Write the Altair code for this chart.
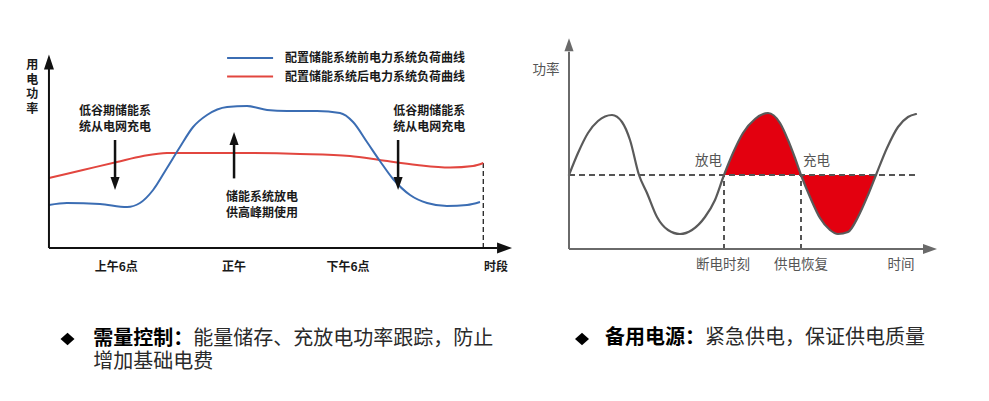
import altair as alt
import pandas as pd

FONT = "Noto Sans CJK SC"

# ---------------- left panel : daily load curve (hour vs. load) ----------------
before_hour = [2.52, 3.45, 5.16, 6.56, 7.23, 7.91, 8.63, 9.30, 9.98, 10.70, 11.74, 12.77,
               13.81, 14.84, 16.39, 17.58, 18.26, 18.98, 19.65, 20.33, 21.21, 22.09, 23.12,
               24.16, 24.83]
before_load = [21.5, 22.5, 22, 20.5, 22.5, 29, 40, 50.5, 60.5, 66.5, 70.5, 71,
               69, 68.5, 68.5, 67.5, 63, 53, 43.5, 34.5, 26.5, 22.5, 21,
               21.5, 23]
after_hour = [2.52, 4.28, 6.04, 7.39, 8.63, 12.05, 15.51, 18.10, 19.81, 21.57, 23.28, 24.47, 25.0]
after_load = [35, 39, 43, 46, 47.5, 47.5, 47, 46, 43.75, 41.5, 40.25, 41, 42.5]

legend_labels = ["配置储能系统前电力系统负荷曲线", "配置储能系统后电力系统负荷曲线"]
legend_colors = ["#3b6db3", "#e2463f"]
legend_h1 = [11.74, 11.74]
legend_h2 = [14.12, 14.12]
legend_text_h = [14.74, 14.74]
legend_load = [95, 85.7]

period_labels = ["上午6点", "正午", "下午6点", "时段"]
period_hours = [6, 12.1, 18, 25.66]
period_load = [-9.5, -9.5, -9.5, -9.5]

ylabel_text = "用\n电\n功\n率"
ylabel_load = 93.95
ylabel_hour = 1.66

note_blocks = ["低谷期储能系\n统从电网充电", "低谷期储能系\n统从电网充电", "储能系统放电\n供高峰期使用"]
note_hour = [5.94, 22.2, 13.55]
note_load = [70.95, 70.95, 27.95]

# annotation arrows: hour, shaft start, shaft end (head position), direction
arrow_hour = [5.94, 20.59, 12.1]
arrow_from = [54, 54, 34.8]
arrow_to = [32.3, 32.3, 54.8]
arrow_dir = ["down", "down", "up"]

axis_origin_hour = 2.52
axis_top_load = 93
axis_end_hour = 25.71
axis_xhead_hour = 26.10
dash_hour = 25.0
dash_load = 42.5

bottom_left_bold = "需量控制："
bottom_left_rest = ["能量储存、充放电功率跟踪，防止", "增加基础电费"]

# ---------------- right panel : backup power (time vs. power) ----------------
wave_t = [0, 9, 19, 29, 43, 53, 61, 70, 78, 88, 99, 111, 123, 136, 146, 155,
          164, 174, 186, 199, 211, 219, 226, 232, 241, 251, 261, 269, 279, 289, 299, 307,
          318, 329, 339, 347]
wave_p = [0, 22, 42, 54, 60, 53, 35, 0, -18, -42, -55, -59, -55, -42, -25, 0,
          22, 42, 56, 62, 52, 35, 17, 0, -22, -43, -55, -59, -57, -42, -20, 0,
          27, 48, 58, 61]
outage_t = 155
restore_t = 232
fill_end_t = 307
ref_end_t = 348
r_axis_bottom = -74
r_axis_top = 123.3
r_yhead = 130.3
r_axis_end_t = 354
r_xhead_t = 361

r_labels = ["功率", "断电时刻", "供电恢复", "时间"]
r_label_t = [-23, 154, 232, 332]
r_label_p = [105, -90, -90, -90]
discharge_label = "放电"
charge_label = "充电"

bottom_right_bold = "备用电源："
bottom_right_rest = "紧急供电，保证供电质量"

# ================= scales =================
LX = alt.Scale(domain=[0.4, 26.9], nice=False, zero=False)
LY = alt.Scale(domain=[-72.5, 120], nice=False, zero=False)
RX = alt.Scale(domain=[-49, 412], nice=False, zero=False)
RY = alt.Scale(domain=[-218, 167], nice=False, zero=False)


def lx(f="h"):
    return alt.X(f"{f}:Q", scale=LX, axis=None)


def ly(f="p"):
    return alt.Y(f"{f}:Q", scale=LY, axis=None)


def rx(f="t"):
    return alt.X(f"{f}:Q", scale=RX, axis=None)


def ry(f="p"):
    return alt.Y(f"{f}:Q", scale=RY, axis=None)


UP = "M0,-1L0.667,1L-0.667,1Z"
DOWN = "M0,1L0.7,-1L-0.7,-1Z"
RIGHT = "M1,0L-1,0.733L-1,-0.733Z"
UP_S = "M0,-1L0.7,1L-0.7,1Z"
RIGHT_S = "M1,0L-1,0.7L-1,-0.7Z"
DIAMOND = "M0,-0.9L1,0L0,0.9L-1,0Z"

# ---------- left layers ----------
df_before = pd.DataFrame({"h": before_hour, "p": before_load})
df_after = pd.DataFrame({"h": after_hour, "p": after_load})

line_before = alt.Chart(df_before).mark_line(interpolate="monotone", strokeWidth=2, color=legend_colors[0]).encode(x=lx(), y=ly())
line_after = alt.Chart(df_after).mark_line(interpolate="monotone", strokeWidth=2, color=legend_colors[1]).encode(x=lx(), y=ly())

df_laxes = pd.DataFrame({
    "h": [axis_origin_hour, axis_origin_hour],
    "h2": [axis_origin_hour, axis_end_hour],
    "p": [0, 0],
    "p2": [axis_top_load, 0],
})
l_axes = alt.Chart(df_laxes).mark_rule(color="#111111", strokeWidth=2).encode(
    x=lx(), x2="h2:Q", y=ly(), y2="p2:Q")
l_yhead = alt.Chart(pd.DataFrame({"h": [axis_origin_hour], "p": [axis_top_load]})).mark_point(
    shape=UP, size=225, filled=True, color="#111111", opacity=1).encode(x=lx(), y=ly())
l_xhead = alt.Chart(pd.DataFrame({"h": [axis_xhead_hour], "p": [0]})).mark_point(
    shape=RIGHT, size=225, filled=True, color="#111111", opacity=1).encode(x=lx(), y=ly())

l_dash = alt.Chart(pd.DataFrame({"h": [dash_hour], "p": [0], "p2": [dash_load]})).mark_rule(
    color="#222222", strokeWidth=1.3, strokeDash=[5, 3]).encode(x=lx(), y=ly(), y2="p2:Q")

df_arrows = pd.DataFrame({"h": arrow_hour, "p": arrow_from, "p2": arrow_to, "dir": arrow_dir})
arrow_shafts = alt.Chart(df_arrows).mark_rule(color="#111111", strokeWidth=2.5).encode(
    x=lx(), y=ly(), y2="p2:Q")
arrow_down = alt.Chart(df_arrows[df_arrows["dir"] == "down"]).mark_point(
    shape=DOWN, size=169, filled=True, color="#111111", opacity=1).encode(x=lx(), y=ly("p2"))
arrow_up = alt.Chart(df_arrows[df_arrows["dir"] == "up"]).mark_point(
    shape=UP_S, size=169, filled=True, color="#111111", opacity=1).encode(x=lx(), y=ly("p2"))

df_leg = pd.DataFrame({"h": legend_h1, "h2": legend_h2, "th": legend_text_h, "p": legend_load,
                       "label": legend_labels, "c": legend_colors})
leg_lines = alt.Chart(df_leg).mark_rule(strokeWidth=2).encode(
    x=lx(), x2="h2:Q", y=ly(),
    color=alt.Color("c:N", scale=None, legend=None))
leg_text = alt.Chart(df_leg).mark_text(font=FONT, fontSize=12, fontWeight="bold", align="left",
                                       baseline="middle", color="#1a1a1a").encode(
    x=lx("th"), y=ly(), text="label:N")

df_period = pd.DataFrame({"h": period_hours, "p": period_load, "label": period_labels})
period_text = alt.Chart(df_period).mark_text(font=FONT, fontSize=12, fontWeight="bold",
                                             align="center", baseline="middle", color="#1a1a1a").encode(
    x=lx(), y=ly(), text="label:N")

df_ylab = pd.DataFrame({"h": [ylabel_hour], "p": [ylabel_load], "label": [ylabel_text]})
ylab_text = alt.Chart(df_ylab).mark_text(font=FONT, fontSize=12, fontWeight="bold", lineBreak="\n",
                                         lineHeight=14.5, align="center", baseline="top",
                                         color="#1a1a1a").encode(
    x=lx(), y=ly(), text="label:N")

df_notes = pd.DataFrame({"h": note_hour, "p": note_load, "label": note_blocks})
notes_text = alt.Chart(df_notes).mark_text(font=FONT, fontSize=12, fontWeight="bold", lineBreak="\n",
                                           lineHeight=15.5, align="center", baseline="top",
                                           color="#1a1a1a").encode(
    x=lx(), y=ly(), text="label:N")

df_lb_bold = pd.DataFrame({"h": [4.81], "p": [-45.5], "label": [bottom_left_bold]})
df_lb_rest = pd.DataFrame({"h": [9.99, 4.81], "p": [-45.5, -57], "label": bottom_left_rest})
lb_diamond = alt.Chart(pd.DataFrame({"h": [3.48], "p": [-45.5]})).mark_point(
    shape=DIAMOND, size=196, filled=True, color="#000000", opacity=1).encode(x=lx(), y=ly())
lb_bold = alt.Chart(df_lb_bold).mark_text(font=FONT, fontSize=20, fontWeight="bold", align="left",
                                          baseline="middle", color="#000000").encode(
    x=lx(), y=ly(), text="label:N")
lb_rest = alt.Chart(df_lb_rest).mark_text(font=FONT, fontSize=20, align="left",
                                          baseline="middle", color="#2a2a2a").encode(
    x=lx(), y=ly(), text="label:N")

left = alt.layer(
    l_dash, line_after, line_before, l_axes, l_yhead, l_xhead,
    arrow_shafts, arrow_down, arrow_up, leg_lines, leg_text, period_text, ylab_text,
    notes_text, lb_diamond, lb_bold, lb_rest
).properties(width=512, height=385)

# ---------- right layers ----------
df_wave = pd.DataFrame({"t": wave_t, "p": wave_p})
df_fill = df_wave[(df_wave["t"] >= outage_t) & (df_wave["t"] <= fill_end_t)].copy()
df_fill["base"] = 0

r_fill = alt.Chart(df_fill).mark_area(interpolate="monotone", color="#e3000f", opacity=1).encode(
    x=rx(), y=ry(), y2="base:Q")
r_ref = alt.Chart(pd.DataFrame({"t": [0], "t2": [ref_end_t], "p": [0]})).mark_rule(
    color="#555555", strokeWidth=2, strokeDash=[6, 4]).encode(x=rx(), x2="t2:Q", y=ry())
r_vdash = alt.Chart(pd.DataFrame({"t": [outage_t, restore_t], "p": [r_axis_bottom] * 2, "p2": [0, 0]})).mark_rule(
    color="#555555", strokeWidth=2, strokeDash=[5, 4]).encode(x=rx(), y=ry(), y2="p2:Q")
r_wave = alt.Chart(df_wave).mark_line(interpolate="monotone", color="#5a5a5a", strokeWidth=2.2,
                                      strokeCap="round").encode(x=rx(), y=ry())

df_raxes = pd.DataFrame({"t": [0, 0], "t2": [0, r_axis_end_t],
                         "p": [r_axis_bottom, r_axis_bottom], "p2": [r_axis_top, r_axis_bottom]})
r_axes = alt.Chart(df_raxes).mark_rule(color="#6a6a6a", strokeWidth=2).encode(
    x=rx(), x2="t2:Q", y=ry(), y2="p2:Q")
r_yhead = alt.Chart(pd.DataFrame({"t": [0], "p": [r_yhead]})).mark_point(
    shape=UP_S, size=169, filled=True, color="#6a6a6a", opacity=1).encode(x=rx(), y=ry())
r_xhead = alt.Chart(pd.DataFrame({"t": [r_xhead_t], "p": [r_axis_bottom]})).mark_point(
    shape=RIGHT_S, size=196, filled=True, color="#6a6a6a", opacity=1).encode(x=rx(), y=ry())

df_rlab = pd.DataFrame({"t": r_label_t, "p": r_label_p, "label": r_labels})
r_text = alt.Chart(df_rlab).mark_text(font=FONT, fontSize=13.5, align="center", baseline="middle",
                                      color="#555555").encode(x=rx(), y=ry(), text="label:N")
r_dis = alt.Chart(pd.DataFrame({"t": [outage_t - 2], "p": [14], "label": [discharge_label]})).mark_text(
    font=FONT, fontSize=13.5, align="right", baseline="middle", color="#555555").encode(
    x=rx(), y=ry(), text="label:N")
r_chg = alt.Chart(pd.DataFrame({"t": [restore_t + 2], "p": [14], "label": [charge_label]})).mark_text(
    font=FONT, fontSize=13.5, align="left", baseline="middle", color="#555555").encode(
    x=rx(), y=ry(), text="label:N")

rb_diamond = alt.Chart(pd.DataFrame({"t": [13], "p": [-164]})).mark_point(
    shape=DIAMOND, size=196, filled=True, color="#000000", opacity=1).encode(x=rx(), y=ry())
rb_bold = alt.Chart(pd.DataFrame({"t": [36], "p": [-163], "label": [bottom_right_bold]})).mark_text(
    font=FONT, fontSize=20, fontWeight="bold", align="left", baseline="middle", color="#000000").encode(
    x=rx(), y=ry(), text="label:N")
rb_rest = alt.Chart(pd.DataFrame({"t": [136], "p": [-163], "label": [bottom_right_rest]})).mark_text(
    font=FONT, fontSize=20, align="left", baseline="middle", color="#2a2a2a").encode(
    x=rx(), y=ry(), text="label:N")

right = alt.layer(
    r_fill, r_ref, r_vdash, r_wave, r_axes, r_yhead, r_xhead, r_text, r_dis, r_chg,
    rb_diamond, rb_bold, rb_rest
).properties(width=461, height=385)

chart = alt.hconcat(left, right, spacing=0).properties(
    padding=0, background="white"
).configure_view(stroke=None)

chart.save("out.html", embed_options={"renderer": "svg", "actions": False})
